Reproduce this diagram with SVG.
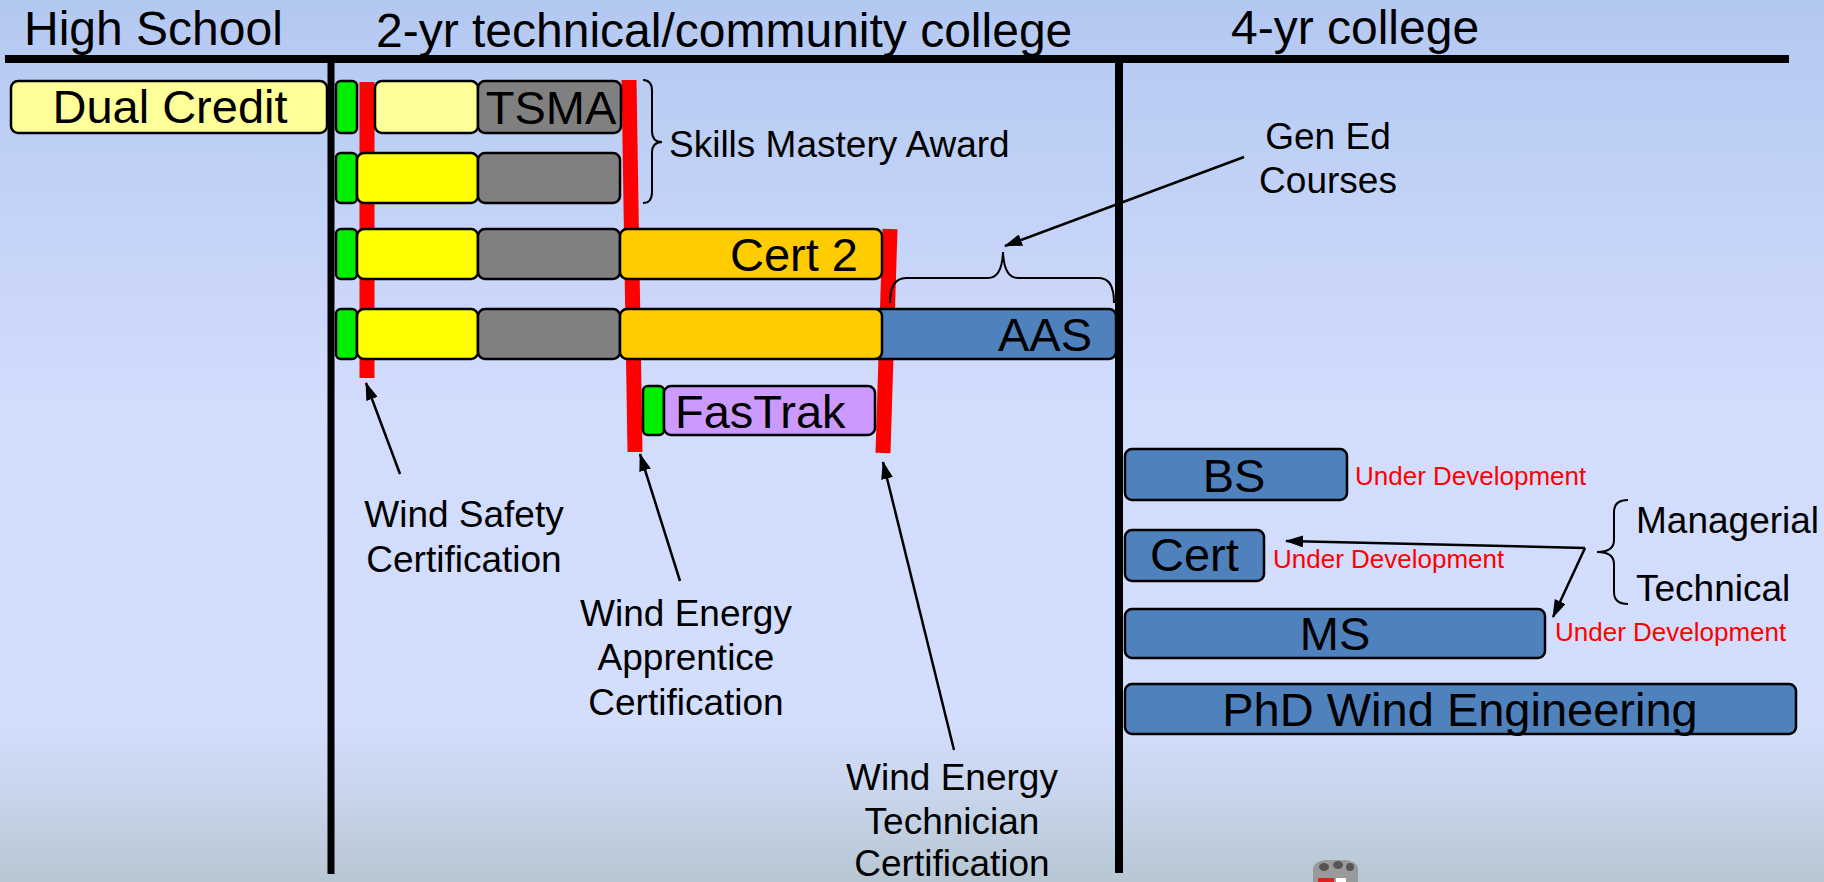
<svg xmlns="http://www.w3.org/2000/svg" width="1824" height="882" viewBox="0 0 1824 882">
<defs>
<linearGradient id="bg" x1="0" y1="0" x2="0" y2="1">
<stop offset="0" stop-color="#b3c8f1"/>
<stop offset="0.45" stop-color="#d2dcfd"/>
<stop offset="0.82" stop-color="#d3ddfc"/>
<stop offset="0.9" stop-color="#c8d5ec"/>
<stop offset="1" stop-color="#b7c7d2"/>
</linearGradient>
<marker id="ah" markerUnits="userSpaceOnUse" markerWidth="18" markerHeight="12" refX="17" refY="6" orient="auto">
<path d="M0,0 L18,6 L0,12 z" fill="#000"/>
</marker>
<style>
text{font-family:"Liberation Sans",Arial,sans-serif;fill:#000}
.h{font-size:48px}
.b{font-size:47px}
.l{font-size:37px}
.u{font-size:26px;fill:#ff0000}
.m{text-anchor:middle}
.e{text-anchor:end}
.box{stroke:#000;stroke-width:2.5}
.g{fill:#00ee00}
.y{fill:#ffff00}
.ly{fill:#ffff99}
.gr{fill:#808080}
.o{fill:#ffcc00}
.bl{fill:#4f81bd}
.p{fill:#cc99ff}
.red{stroke:#ff0000;stroke-width:15;fill:none}
.arr{stroke:#000;stroke-width:2.5;fill:none;marker-end:url(#ah)}
.br{stroke:#000;stroke-width:2;fill:none}
.ax{stroke:#000;fill:none}
</style>
</defs>
<rect x="0" y="0" width="1824" height="882" fill="url(#bg)"/>

<g id="headers">
<text class="h" x="24" y="45">High School</text>
<text class="h" x="376" y="47">2-yr technical/community college</text>
<text class="h" x="1231" y="44">4-yr college</text>
</g>

<g id="axes">
<line class="ax" x1="5" y1="59" x2="1789" y2="59" stroke-width="8"/>
<line class="ax" x1="331" y1="59" x2="331" y2="874" stroke-width="7"/>
<line class="ax" x1="1119" y1="59" x2="1119" y2="873" stroke-width="8"/>
</g>

<g id="milestones">
<line class="red" x1="367" y1="82" x2="367" y2="378"/>
<line class="red" x1="629" y1="80" x2="635" y2="452"/>
<line class="red" x1="890" y1="229" x2="883" y2="453"/>
</g>

<g id="dual-credit">
<rect class="box ly" x="11" y="81" width="316" height="52" rx="7"/>
<text class="b m" x="170" y="123">Dual Credit</text>
</g>

<g id="row-tsma">
<rect class="box g" x="336" y="81" width="21" height="52" rx="5"/>
<rect class="box ly" x="375" y="81" width="103" height="52" rx="7"/>
<rect class="box gr" x="478" y="81" width="143" height="52" rx="7"/>
<text class="b m" x="551" y="124">TSMA</text>
</g>

<g id="row-sma">
<rect class="box g" x="336" y="153" width="21" height="50" rx="5"/>
<rect class="box y" x="357" y="153" width="121" height="50" rx="7"/>
<rect class="box gr" x="478" y="153" width="142" height="50" rx="7"/>
</g>

<g id="row-cert2">
<rect class="box g" x="336" y="229" width="21" height="50" rx="5"/>
<rect class="box y" x="357" y="229" width="121" height="50" rx="7"/>
<rect class="box gr" x="478" y="229" width="142" height="50" rx="7"/>
<rect class="box o" x="620" y="229" width="262" height="50" rx="7"/>
<text class="b e" x="858" y="271">Cert 2</text>
</g>

<g id="row-aas">
<rect class="box bl" x="870" y="309" width="246" height="50" rx="7"/>
<rect class="box g" x="336" y="309" width="21" height="50" rx="5"/>
<rect class="box y" x="357" y="309" width="121" height="50" rx="7"/>
<rect class="box gr" x="478" y="309" width="142" height="50" rx="7"/>
<rect class="box o" x="620" y="309" width="262" height="50" rx="7"/>
<text class="b e" x="1092" y="351">AAS</text>
</g>

<g id="fastrak">
<rect class="box g" x="643" y="386" width="21" height="49" rx="5"/>
<rect class="box p" x="664" y="386" width="211" height="49" rx="7"/>
<text class="b" x="675" y="428">FasTrak</text>
</g>

<g id="skills-mastery">
<path class="br" d="M643 80 Q652 80 652 91 L652 131 Q652 142 662 142 Q652 142 652 153 L652 192 Q652 203 643 203"/>
<text class="l" x="669" y="157">Skills Mastery Award</text>
</g>

<g id="gen-ed">
<path class="br" d="M890 303 Q890 278 906 278 L988 278 Q1002 278 1003 252 Q1004 278 1018 278 L1099 278 Q1114 278 1114 303"/>
<text class="l m" x="1328" y="149">Gen Ed</text>
<text class="l m" x="1328" y="193">Courses</text>
</g>

<g id="label-safety">
<text class="l m" x="464" y="527">Wind Safety</text>
<text class="l m" x="464" y="572">Certification</text>
</g>

<g id="label-apprentice">
<text class="l m" x="686" y="626">Wind Energy</text>
<text class="l m" x="686" y="670">Apprentice</text>
<text class="l m" x="686" y="715">Certification</text>
</g>

<g id="label-technician">
<text class="l m" x="952" y="790">Wind Energy</text>
<text class="l m" x="952" y="834">Technician</text>
<text class="l m" x="952" y="876">Certification</text>
</g>

<g id="bs">
<rect class="box bl" x="1125" y="449" width="222" height="51" rx="7"/>
<text class="b m" x="1234" y="492">BS</text>
<text class="u" x="1355" y="485">Under Development</text>
</g>

<g id="cert">
<rect class="box bl" x="1125" y="530" width="139" height="51" rx="7"/>
<text class="b" x="1150" y="571">Cert</text>
<text class="u" x="1273" y="568">Under Development</text>
</g>

<g id="ms">
<rect class="box bl" x="1125" y="609" width="420" height="49" rx="7"/>
<text class="b m" x="1335" y="650">MS</text>
<text class="u" x="1555" y="641">Under Development</text>
</g>

<g id="phd">
<rect class="box bl" x="1125" y="684" width="671" height="50" rx="7"/>
<text class="b m" x="1460" y="726">PhD Wind Engineering</text>
</g>

<g id="tracks">
<path class="br" d="M1628 500 Q1614 500 1614 512 L1614 540 Q1614 552 1597 552 Q1614 552 1614 564 L1614 592 Q1614 604 1628 604"/>
<text class="l" x="1636" y="533">Managerial</text>
<text class="l" x="1636" y="601">Technical</text>
</g>

<g id="connectors">
<line class="arr" x1="1244" y1="157" x2="1005" y2="246"/>
<line class="arr" x1="400" y1="474" x2="366" y2="383"/>
<line class="arr" x1="680" y1="581" x2="640" y2="454"/>
<line class="arr" x1="954" y1="750" x2="883" y2="462"/>
<line class="arr" x1="1585" y1="548" x2="1286" y2="541"/>
<line class="arr" x1="1585" y1="548" x2="1553" y2="617"/>
</g>

<g id="logo">
<path d="M1313 882 L1313 868 Q1315 861 1325 860 L1346 860 Q1356 861 1358 868 L1358 882 z" fill="#9a9a9a"/>
<ellipse cx="1324" cy="867" rx="5" ry="4" fill="#555"/>
<ellipse cx="1338" cy="865" rx="5" ry="4" fill="#555"/>
<ellipse cx="1350" cy="867" rx="4" ry="4" fill="#555"/>
<rect x="1318" y="878" width="16" height="4" fill="#e02020"/>
<rect x="1336" y="878" width="10" height="4" fill="#ffffff"/>
</g>
</svg>
